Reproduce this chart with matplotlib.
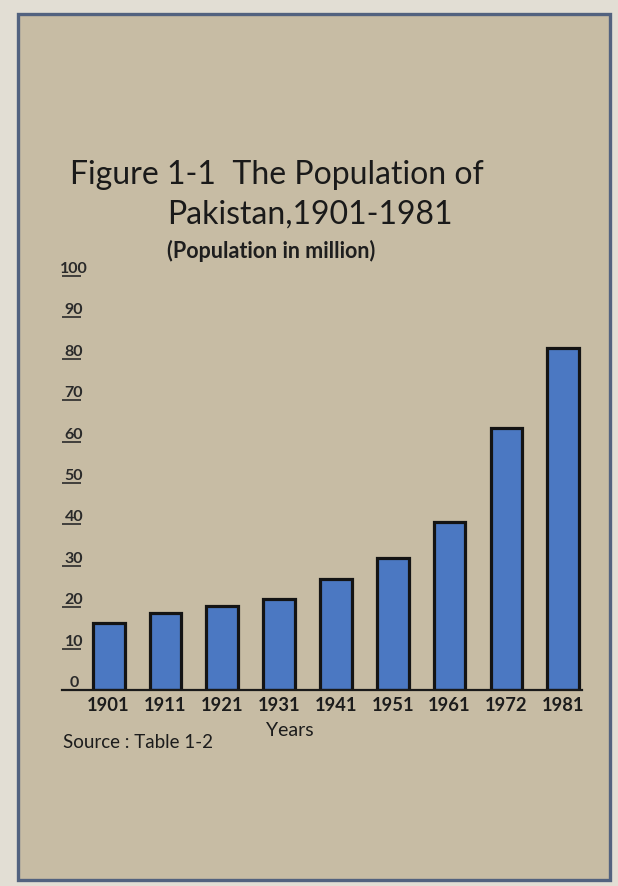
import matplotlib
matplotlib.use("Agg")
import matplotlib.pyplot as plt
from matplotlib.patches import Rectangle

# Population of Pakistan by census year (millions)
years = ["1901", "1911", "1921", "1931", "1941", "1951", "1961", "1972", "1981"]
population = [16.1, 18.5, 20.4, 21.9, 26.9, 31.8, 40.7, 63.4, 82.5]
y_ticks = [0, 10, 20, 30, 40, 50, 60, 70, 80, 90, 100]
y_tick_labels = ["0", "10", "20", "30", "40", "50", "60", "70", "80", "90", "100"]

W, H = 618, 886
narrow = ["DejaVu Sans Condensed", "Liberation Sans Narrow", "Lato", "DejaVu Sans"]
title_font = ["Lato", "DejaVu Sans"]

fig = plt.figure(figsize=(W / 100, H / 100), dpi=100)
fig.patch.set_facecolor("#e2ded4")

# tinted page panel with its printed border
panel = Rectangle((18 / W, 6 / H), (610 - 18) / W, (872 - 6) / H,
                  transform=fig.transFigure, facecolor="#c7bca4",
                  edgecolor="#52627f", linewidth=2.4, zorder=-5)
fig.patches.append(panel)

ax = fig.add_axes([62 / W, 196 / H, 520 / W, 414 / H], zorder=2)
ax.patch.set_visible(False)

x = list(range(len(years)))
ax.bar(x, population, width=0.56, color="#4b78c2", edgecolor="#141414",
       linewidth=2.3, zorder=2)

ax.set_xlim(-0.82, 8.33)
ax.set_ylim(0, 100)

for side in ("left", "right", "top"):
    ax.spines[side].set_visible(False)
ax.spines["bottom"].set_linewidth(1.6)
ax.spines["bottom"].set_color("#1a1a1a")
ax.spines["bottom"].set_zorder(3)

ax.set_xticks(x)
ax.set_xticklabels(years, family=narrow, fontsize=13.2, fontweight="bold",
                   color="#1c1c1c")
ax.tick_params(axis="x", length=0, pad=5)

# y labels sit on top of short underline ticks
ax.set_yticks(y_ticks)
ax.set_yticklabels(y_tick_labels, family=narrow, fontsize=11.5,
                   fontweight="bold", color="#2a2a2a")
ax.tick_params(axis="y", direction="in", length=14, width=1.2,
               color="#2a2a2a", pad=-8.5)
for lbl in ax.get_yticklabels():
    lbl.set_horizontalalignment("center")
    lbl.set_verticalalignment("bottom")

ax.set_xlabel("Years", family=narrow, fontsize=14, color="#1c1c1c")
ax.xaxis.set_label_coords((290 - 62) / 520, (690 - 730) / 414)
ax.xaxis.label.set_verticalalignment("center")

fig.text(63 / W, 1 - 743 / H, "Source : Table 1-2", family=narrow,
         fontsize=13.5, color="#1c1c1c", va="center", ha="left")

fig.text(70 / W, 1 - 184 / H, "Figure 1-1  The Population of",
         family=title_font, fontsize=23, color="#1a1a1a", va="baseline")
fig.text(167 / W, 1 - 224 / H, "Pakistan,1901-1981",
         family=title_font, fontsize=23, color="#1a1a1a", va="baseline")
fig.text(167 / W, 1 - 258 / H, "(Population in million)",
         family=title_font, fontsize=15.5, fontweight="bold",
         color="#1e1e1e", va="baseline")

fig.savefig("out.png", dpi=100)
